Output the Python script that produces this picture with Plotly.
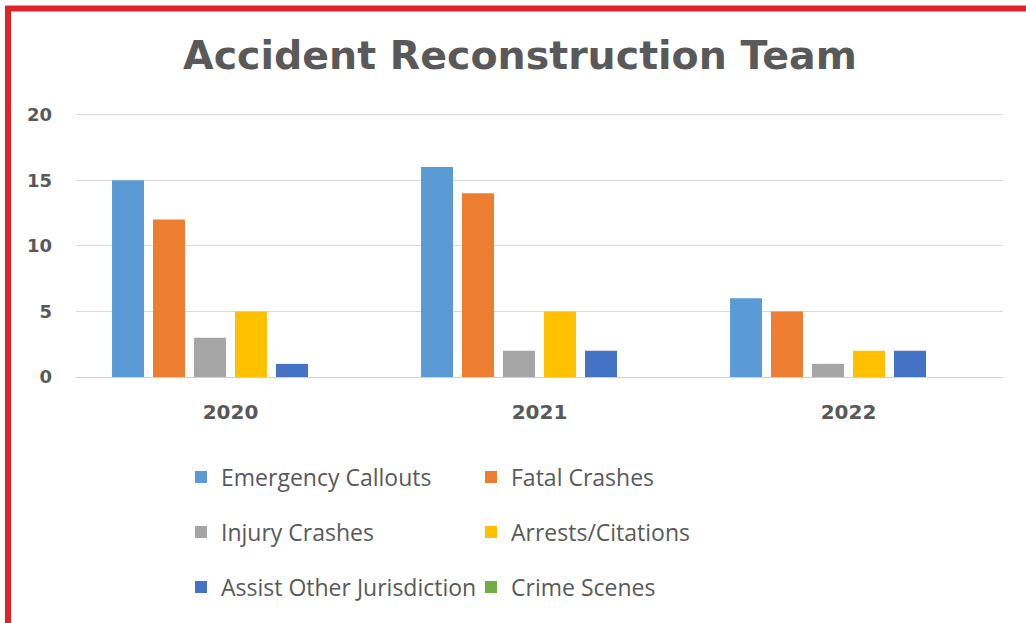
import plotly.graph_objects as go

# ---- data -------------------------------------------------------------
years = ["2020", "2021", "2022"]
series_names = [
    "Emergency Callouts",
    "Fatal Crashes",
    "Injury Crashes",
    "Arrests/Citations",
    "Assist Other Jurisdiction",
    "Crime Scenes",
]
emergency_callouts = [15, 16, 6]
fatal_crashes = [12, 14, 5]
injury_crashes = [3, 2, 1]
arrests_citations = [5, 5, 2]
assist_other_jurisdiction = [1, 2, 2]
crime_scenes = [0, 0, 0]
y_ticks = [0, 5, 10, 15, 20]

series_values = [
    emergency_callouts,
    fatal_crashes,
    injury_crashes,
    arrests_citations,
    assist_other_jurisdiction,
    crime_scenes,
]
colors = ["#5B9BD5", "#ED7D31", "#A5A5A5", "#FFC000", "#4472C4", "#70AD47"]

# ---- layout geometry (pixels) ------------------------------------------
W, H = 1026, 623
L, R, T, B = 76, 23, 112, 246
PW, PH = W - L - R, H - T - B
TEXT = "#595959"
Y_TOP = 20.2  # a little headroom so the gridline at 20 is drawn


def px_x(px):
    return (px - L) / PW


def px_y(py):
    return (H - B - py) / PH


# legend rows: two entries per row, each row its own legend
legend_ids = ["legend", "legend2", "legend3"]
row_centres = [477, 532, 587]

fig = go.Figure()
for i, (name, vals, col) in enumerate(zip(series_names, series_values, colors)):
    fig.add_trace(
        go.Bar(
            x=years,
            y=vals,
            name=name,
            marker=dict(color=col, line=dict(width=0)),
            legend=legend_ids[i // 2],
        )
    )

legend_common = dict(
    orientation="h",
    xref="container",
    yref="container",
    x=181 / W,
    xanchor="left",
    yanchor="middle",
    entrywidth=245,
    entrywidthmode="pixels",
    font=dict(family="Open Sans", size=23, color=TEXT),
    bgcolor="rgba(0,0,0,0)",
    borderwidth=0,
    traceorder="normal",
)
legend_layout = {}
for lid, yc in zip(legend_ids, row_centres):
    legend_layout[lid] = dict(legend_common, y=1 - yc / H)

fig.update_layout(
    width=W,
    height=H,
    margin=dict(l=L, r=R, t=T, b=B),
    paper_bgcolor="white",
    plot_bgcolor="white",
    barmode="group",
    bargap=0.204,
    bargroupgap=0.22,
    showlegend=True,
    title=dict(
        text="<b>Accident Reconstruction Team</b>",
        font=dict(family="DejaVu Sans", size=39.5, color=TEXT),
        xref="container",
        yref="container",
        x=520 / W,
        xanchor="center",
        y=1 - 55 / H,
        yanchor="middle",
    ),
    xaxis=dict(
        showgrid=False,
        showline=False,
        ticks="",
        ticklabelstandoff=21,
        tickfont=dict(family="DejaVu Sans", size=20, color=TEXT, weight="bold"),
    ),
    yaxis=dict(
        range=[0, Y_TOP],
        tickvals=y_ticks,
        showgrid=True,
        gridcolor="#D9D9D9",
        gridwidth=1,
        zeroline=True,
        zerolinecolor="#D0D0D0",
        zerolinewidth=1,
        showline=False,
        ticks="",
        ticklabelstandoff=23,
        tickfont=dict(family="DejaVu Sans", size=18, color=TEXT, weight="bold"),
    ),
    **legend_layout,
)

# red frame along the left and top edges of the picture
fig.add_shape(
    type="rect",
    xref="paper",
    yref="paper",
    x0=px_x(8),
    x1=px_x(1060),
    y0=px_y(660),
    y1=px_y(8.5),
    line=dict(color="#E0232B", width=6),
    fillcolor="rgba(0,0,0,0)",
    layer="above",
)

fig.write_html("out.html")
